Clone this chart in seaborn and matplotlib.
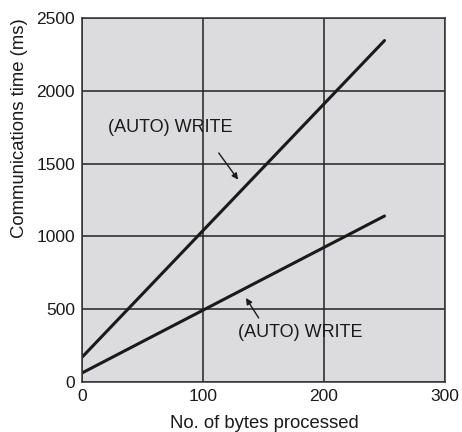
import matplotlib
matplotlib.use("Agg")
import matplotlib.pyplot as plt
import seaborn as sns
import pandas as pd

# data
bytes_x = [0, 250]
write_a = [170, 2345]   # upper line
write_b = [62, 1140]    # lower line
x_ticks = [0, 100, 200, 300]
y_ticks = [0, 500, 1000, 1500, 2000, 2500]

sns.set_style("ticks")
plt.rcParams["font.family"] = ["Liberation Sans", "DejaVu Sans"]

df = pd.DataFrame({
    "x": bytes_x * 2,
    "y": write_a + write_b,
    "series": ["a"] * 2 + ["b"] * 2,
})

fig = plt.figure(figsize=(4.62, 4.32), dpi=100)
ax = fig.add_axes([82 / 462, 50 / 432, 363 / 462, 364 / 432])
ax.set_facecolor("#dcdcde")

sns.lineplot(data=df, x="x", y="y", units="series", estimator=None,
             color="#1a1a1a", linewidth=2.2, ax=ax, legend=False)

ax.set_xlim(0, 300)
ax.set_ylim(0, 2500)
ax.set_xticks(x_ticks)
ax.set_yticks(y_ticks)
ax.grid(True, color="#222222", linewidth=1.1)
ax.set_axisbelow(True)
ax.tick_params(length=0, labelsize=12.5, pad=5, colors="#1a1a1a")
for s in ax.spines.values():
    s.set_color("#333333")
    s.set_linewidth(1.1)

ax.set_xlabel("")
ax.set_ylabel("")
fig.text(264 / 462, 1 - 423 / 432, "No. of bytes processed", fontsize=13.3,
         ha="center", va="center", color="#1a1a1a")
fig.text(20 / 462, 1 - 128 / 432, "Communications time (ms)", fontsize=13.3,
         ha="center", va="center", rotation=90, color="#1a1a1a")

arrow = dict(arrowstyle="-|>", color="#1a1a1a", lw=1.0, mutation_scale=9,
             shrinkA=0, shrinkB=0)
ax.text(73, 1745, "(AUTO) WRITE", ha="center", va="center", fontsize=13,
        color="#1a1a1a")
ax.annotate("", xy=(129, 1390), xytext=(113, 1573), arrowprops=arrow)
ax.text(180, 340, "(AUTO) WRITE", ha="center", va="center", fontsize=13,
        color="#1a1a1a")
ax.annotate("", xy=(135.5, 577), xytext=(146, 440), arrowprops=arrow)

plt.savefig("out.png", dpi=100)
